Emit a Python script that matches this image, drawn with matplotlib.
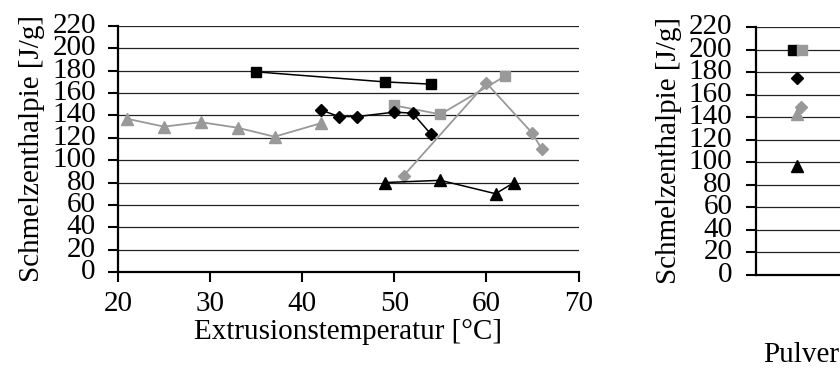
import matplotlib
matplotlib.use('Agg')
import matplotlib.pyplot as plt

plt.rcParams['font.family'] = ['Liberation Serif', 'DejaVu Serif']
plt.rcParams['font.size'] = 21

GRAY = '#999999'

# Extrusion series (temperature in degC, melting enthalpy in J/g)
sq_black_x = [35, 49, 54]
sq_black_y = [179, 170, 168]
sq_gray_x = [50, 55, 62]
sq_gray_y = [149, 141, 175]
di_black_x = [42, 44, 46, 50, 52, 54]
di_black_y = [145, 139, 139, 143, 142, 123]
di_gray_x = [51, 60, 65, 66]
di_gray_y = [86, 169, 124, 110]
tri_black_x = [49, 55, 61, 63]
tri_black_y = [80, 82, 70, 80]
tri_gray_x = [21, 25, 29, 33, 37, 42]
tri_gray_y = [137, 130, 134, 129, 121, 133]

# Powder values
powder_labels = ['sq_black', 'sq_gray', 'di_black', 'di_gray', 'tri_gray', 'tri_black']
powder_vals = [200, 200, 175, 149, 143, 97]
powder_pos = [0.41, 0.51, 0.455, 0.50, 0.455, 0.455]

yticks = list(range(0, 221, 20))
xticks = [20, 30, 40, 50, 60, 70]

fig = plt.figure(figsize=(8.4, 3.68), dpi=100)
ax1 = fig.add_axes([118/840, 1-272/368, (578.5-118)/840, (272-26)/368])
ax2 = fig.add_axes([756/840, 1-275/368, 90/840, (275-27)/368])

def style(ax, pad):
    ax.set_ylim(0, 220)
    ax.set_yticks(yticks)
    ax.yaxis.grid(True, color='#222222', linewidth=0.9)
    ax.set_axisbelow(True)
    for s in ['top', 'right']:
        ax.spines[s].set_visible(False)
    ax.spines['left'].set_linewidth(1.6)
    ax.spines['bottom'].set_linewidth(1.6)
    ax.tick_params(axis='y', length=7, width=1.5, pad=pad)
    ax.set_ylabel('Schmelzenthalpie [J/g]', labelpad=5)
    for lab in ax.get_yticklabels():
        lab.set_verticalalignment('center')

style(ax1, 9)
ax1.set_xlim(20, 70)
ax1.set_xticks(xticks)
ax1.tick_params(axis='x', length=7, width=1.5, pad=7)
ax1.set_xlabel('Extrusionstemperatur [°C]', labelpad=1)

ax1.plot(tri_gray_x, tri_gray_y, color=GRAY, lw=1.3, marker='^', ms=9, mec=GRAY, mfc=GRAY, clip_on=False)
ax1.plot(di_gray_x, di_gray_y, color=GRAY, lw=1.3, marker='D', ms=6.5, mec=GRAY, mfc=GRAY, clip_on=False)
ax1.plot(sq_gray_x, sq_gray_y, color=GRAY, lw=1.3, marker='s', ms=7.5, mec=GRAY, mfc=GRAY, clip_on=False)
ax1.plot(sq_black_x, sq_black_y, color='black', lw=1.1, marker='s', ms=7.5, clip_on=False)
ax1.plot(di_black_x, di_black_y, color='black', lw=1.1, marker='D', ms=6.5, clip_on=False)
ax1.plot(tri_black_x, tri_black_y, color='black', lw=1.1, marker='^', ms=9, clip_on=False)

style(ax2, 10)
ax2.set_xlim(0, 1)
ax2.set_xticks([])
ax2.set_xlabel('Pulver', labelpad=48)
styles = {
    'sq_black': ('s', 'black', 7.5),
    'sq_gray': ('s', GRAY, 7.5),
    'di_black': ('D', 'black', 6.5),
    'di_gray': ('D', GRAY, 6.5),
    'tri_gray': ('^', GRAY, 9),
    'tri_black': ('^', 'black', 9),
}
for lab, v, p in zip(powder_labels, powder_vals, powder_pos):
    m, c, s = styles[lab]
    ax2.plot([p], [v], marker=m, color=c, ms=s, ls='none', clip_on=False)

fig.savefig('out.png', dpi=100)
